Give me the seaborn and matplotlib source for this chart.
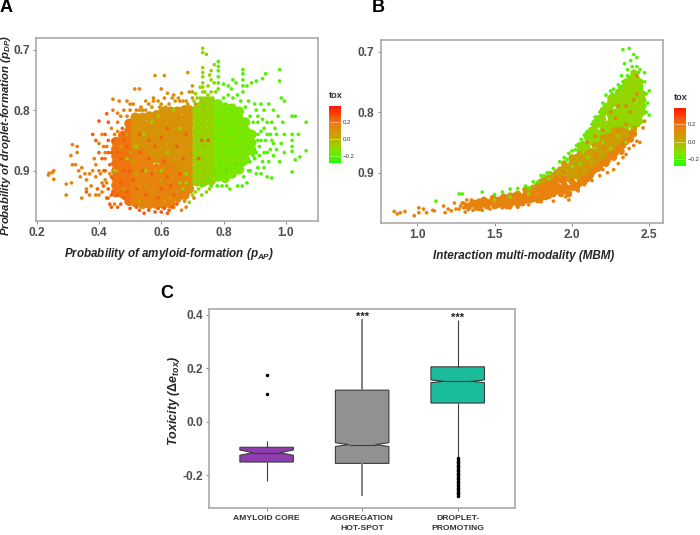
import numpy as np
import pandas as pd
import matplotlib
matplotlib.use("Agg")
import matplotlib.pyplot as plt
from matplotlib.colors import LinearSegmentedColormap, Normalize
from matplotlib.cm import ScalarMappable
import seaborn as sns

sns.set_theme(style="white")
plt.rcParams['font.family'] = ['Liberation Sans', 'DejaVu Sans']
plt.rcParams['mathtext.fontset'] = 'custom'
plt.rcParams['mathtext.it'] = 'Liberation Sans:italic:bold'
plt.rcParams['mathtext.rm'] = 'Liberation Sans:bold'
plt.rcParams['mathtext.bf'] = 'Liberation Sans:bold'

# ---------- Panel A, dense cloud ----------
a_core_red = [(.455,.852),(.455,.864),(.455,.876),(.455,.888),(.455,.90),(.455,.912),(.455,.924),(.455,.936),
 (.477,.842),(.477,.854),(.477,.866),(.477,.878),(.477,.89),(.477,.902),(.477,.914),(.477,.926),(.477,.938),
 (.497,.822),(.497,.834),(.497,.846),(.497,.858),(.497,.87),(.497,.882),(.497,.894),(.497,.906),(.497,.918),(.497,.93),(.497,.942),(.497,.95)]
a_core_orange = [(.517,.872),(.517,.884),(.517,.896),(.517,.908),(.517,.92),(.517,.932),(.517,.944),(.517,.952),
 (.54,.872),(.54,.884),(.54,.896),(.54,.908),(.54,.92),(.54,.932),(.54,.944),(.54,.955),
 (.562,.884),(.562,.896),(.562,.908),(.562,.92),(.562,.932),(.562,.944),(.562,.955),
 (.585,.896),(.585,.908),(.585,.92),(.585,.932),(.585,.944),(.585,.955),
 (.607,.884),(.607,.908),(.607,.92),(.607,.932),(.607,.944),(.607,.955),
 (.63,.896),(.63,.92),(.63,.932),(.63,.944),(.63,.954),
 (.652,.908),(.652,.92),(.652,.932),(.652,.944),(.675,.92),(.675,.932),(.675,.94)]
a_core_amber = [(.517,.812),(.517,.824),(.517,.836),(.517,.848),(.517,.86),
 (.54,.812),(.54,.824),(.54,.836),(.54,.848),(.54,.86),
 (.562,.81),(.562,.824),(.562,.836),(.562,.848),(.562,.86),(.562,.872),
 (.585,.808),(.585,.82),(.585,.832),(.585,.844),(.585,.856),(.585,.868),(.585,.88),
 (.607,.802),(.607,.814),(.607,.826),(.607,.838),(.607,.85),(.607,.862),(.607,.874),(.607,.896),
 (.63,.802),(.63,.814),(.63,.826),(.63,.838),(.63,.85),(.63,.862),(.63,.874),(.63,.886),(.63,.908),
 (.652,.802),(.652,.814),(.652,.826),(.652,.838),(.652,.85),(.652,.862),(.652,.874),(.652,.886),(.652,.897),
 (.675,.80),(.675,.814),(.675,.826),(.675,.838),(.675,.85),(.675,.862),(.675,.874),(.675,.886),(.675,.898),(.675,.91),
 (.69,.80),(.69,.812),(.69,.824),(.69,.836),(.69,.848),(.69,.86),(.69,.872),(.69,.884),(.69,.896),(.69,.908),(.69,.92),(.69,.93)]
a_core_lime = [(.715,.799),(.715,.811),(.715,.823),(.715,.835),(.715,.847),(.715,.859),(.715,.871),(.715,.883),(.715,.895),(.715,.907),(.715,.918),
 (.737,.787),(.737,.799),(.737,.811),(.737,.823),(.737,.835),(.737,.847),(.737,.859),(.737,.871),(.737,.883),(.737,.895),(.737,.907),(.737,.918),
 (.76,.787),(.76,.799),(.76,.811),(.76,.823),(.76,.835),(.76,.847),(.76,.859),(.76,.871),(.76,.883),(.76,.895),(.76,.907),(.76,.916)]
a_core_green = [(.782,.79),(.782,.804),(.782,.816),(.782,.828),(.782,.84),(.782,.852),(.782,.864),(.782,.876),(.782,.888),(.782,.90),(.782,.91),
 (.805,.795),(.805,.809),(.805,.821),(.805,.833),(.805,.845),(.805,.857),(.805,.869),(.805,.881),(.805,.893),(.805,.905),(.805,.912),
 (.827,.797),(.827,.809),(.827,.821),(.827,.833),(.827,.845),(.827,.857),(.827,.869),(.827,.881),(.827,.893),(.827,.905),
 (.85,.802),(.85,.814),(.85,.826),(.85,.838),(.85,.85),(.85,.862),(.85,.874),(.85,.886),(.85,.898),
 (.87,.82),(.87,.834),(.87,.846),(.87,.858),(.87,.87),(.87,.882),(.89,.84),(.89,.854),(.89,.866)]

# ---------- Panel A, sparse edge points and speckle ----------
a_edge_red = [(.40,.818),(.425,.806),(.43,.82),(.36,.935),(.395,.93),(.42,.84),(.38,.84),(.39,.85),(.40,.87),(.41,.88),(.42,.90),(.415,.925),(.435,.955),(.44,.96),(.46,.96),(.48,.945),(.47,.955),(.50,.962),(.53,.965),(.545,.97),(.56,.965),(.59,.962),(.62,.97),(.625,.965),(.60,.968),(.475,.83),(.48,.85),(.49,.86),(.43,.87),(.435,.89),(.44,.91),(.43,.93),(.44,.94),(.425,.945),(.445,.85),(.43,.85),(.44,.87),(.445,.935),(.52,.96),(.58,.968),(.61,.962),(.635,.96),(.65,.955)]
a_edge_orange = [(.238,.907),(.24,.904),(.25,.903),(.255,.90),(.255,.914),(.295,.922),(.295,.94),(.312,.92),(.31,.875),(.315,.89),(.325,.89),(.33,.87),(.335,.90),(.34,.91),(.345,.945),(.355,.905),(.36,.915),(.37,.905),(.375,.925),(.38,.90),(.385,.88),(.39,.94),(.40,.94),(.405,.905),(.41,.92),(.415,.90),(.40,.855),(.41,.84),(.42,.87),(.44,.83),(.445,.80),(.46,.805),(.445,.782),(.465,.785),(.49,.785),(.50,.79),(.515,.765),(.53,.765),(.535,.795),(.56,.79),(.575,.78),(.60,.765),(.61,.78),(.64,.775),(.66,.785),(.58,.955),(.64,.96),(.665,.965),(.68,.96),(.655,.95),(.705,.945),(.315,.857),(.33,.86),(.345,.895),(.36,.93),(.37,.94),(.39,.91),(.43,.945),(.45,.955),(.39,.89),(.40,.90),(.42,.88),(.425,.86),(.415,.86),(.41,.935),(.42,.915),(.46,.82),(.47,.81),(.48,.80),(.49,.81),(.50,.80),(.51,.79),(.52,.80),(.46,.835),(.45,.84),(.435,.905),(.425,.92)]
a_edge_amber = [(.58,.743),(.61,.743),(.685,.738),(.62,.772),(.635,.78),(.665,.772),(.69,.77),(.70,.76),(.70,.78),(.71,.79),(.68,.785),(.55,.785),(.57,.795),(.59,.785),(.625,.79),(.655,.80),(.675,.795),(.675,.95),(.54,.80),(.55,.80),(.575,.785),(.60,.79),(.615,.795),(.645,.785),(.655,.78),(.67,.785),(.685,.79),(.70,.77),(.595,.795),(.53,.80)]
a_edge_lime = [(.733,.698),(.733,.705),(.733,.73),(.733,.738),(.733,.745),(.733,.755),(.733,.762),(.733,.77),(.745,.708),(.725,.762),(.71,.773),(.715,.78),(.74,.77),(.755,.742),(.76,.735),(.75,.76),(.76,.77),(.77,.725),(.77,.755),(.72,.93),(.73,.94),(.745,.935),(.755,.93),(.70,.94),(.71,.935),(.69,.952),(.725,.78),(.735,.78),(.745,.78),(.755,.78),(.765,.78),(.705,.785),(.72,.79),(.75,.775),(.76,.75),(.775,.77)]
a_edge_green = [(.783,.72),(.783,.728),(.783,.735),(.783,.745),(.783,.755),(.783,.765),(.80,.757),(.815,.76),(.825,.765),(.83,.75),(.84,.755),(.862,.733),(.862,.74),(.862,.75),(.862,.76),(.862,.77),(.875,.76),(.89,.755),(.905,.752),(.925,.748),(.935,.74),(.98,.733),(.98,.752),(.985,.78),(.995,.785),(.88,.785),(.90,.79),(.92,.79),(.945,.79),(.96,.80),(.93,.80),(.905,.80),(.94,.82),(.955,.82),(.975,.81),(1.02,.81),(1.03,.81),(1.065,.82),(.99,.82),(1.02,.84),(1.02,.85),(1.04,.84),(1.02,.86),(1.02,.868),(.995,.84),(.985,.855),(.97,.84),(.95,.84),(.935,.85),(.92,.835),(.915,.86),(.93,.87),(.95,.865),(.97,.865),(.995,.87),(1.065,.867),(1.045,.877),(1.03,.882),(1.02,.902),(.98,.885),(.96,.875),(.945,.885),(.93,.895),(.91,.895),(.92,.905),(.94,.91),(.955,.912),(.90,.88),(.88,.90),(.865,.91),(.875,.92),(.86,.925),(.845,.925),(.82,.93),(.81,.925),(.795,.925),(.78,.925),(.865,.89),(.885,.90),(.905,.905),(.80,.78),(.815,.775),(.83,.78),(.845,.775),(.855,.785),(.87,.795),(.885,.81),(.895,.82),(.91,.82),(.91,.84),(.91,.85),(.905,.87),(.92,.85),(.93,.83),(.94,.84),(.955,.85),(.965,.83),(.96,.855),(.925,.815),(.91,.81),(.895,.875),(.885,.885),(.915,.875),(.925,.885),(.94,.87)]
a_speckle_lime = [(.66,.83),(.62,.87),(.57,.82),(.52,.86),(.60,.90),(.49,.88),(.64,.80),(.68,.92),(.66,.92),(.545,.84),(.59,.81),(.45,.90),(.55,.90),(.67,.93),(.68,.905)]
a_speckle_red = [(.56,.88),(.60,.93),(.52,.93),(.48,.84),(.47,.88),(.62,.91),(.58,.86),(.64,.94),(.67,.88),(.75,.85),(.72,.88),(.73,.85),(.54,.90),(.50,.90),(.46,.87),(.53,.87),(.57,.905),(.61,.885),(.66,.905),(.55,.94),(.59,.945),(.63,.925),(.51,.915),(.49,.935),(.53,.84),(.60,.845),(.65,.86),(.56,.85),(.68,.84),(.62,.83),(.47,.92),(.46,.94),(.48,.90)]
a_speckle_amber = [(.50,.87),(.52,.905),(.55,.925),(.58,.90),(.60,.915),(.63,.945),(.47,.86),(.49,.84),(.46,.90),(.65,.935),(.57,.935),(.53,.95),(.61,.95),(.48,.93),(.51,.885)]
a_speckle_bright = [(.80,.85),(.83,.87),(.78,.82),(.82,.83),(.85,.85),(.79,.89),(.84,.89),(.86,.84),(.81,.90),(.88,.86),(.77,.90),(.75,.915),(.73,.925),(.76,.925)]

# ---------- Panel B, dense band ----------
b_core_lime = [(2.05,.855),(2.05,.863),(2.1,.837),(2.1,.843),(2.1,.851),(2.1,.86),(2.15,.817),(2.15,.823),(2.15,.831),(2.15,.839),(2.15,.847),
 (2.2,.797),(2.2,.803),(2.2,.811),(2.2,.819),(2.2,.827),(2.2,.835),(2.25,.777),(2.25,.783),(2.25,.791),(2.25,.799),(2.25,.807),(2.25,.815),(2.25,.823),(2.25,.831),
 (2.3,.767),(2.3,.773),(2.3,.781),(2.3,.789),(2.3,.797),(2.3,.805),(2.3,.813),(2.3,.821),(2.35,.75),(2.35,.755),(2.35,.765),(2.35,.775),(2.35,.785),(2.35,.795),(2.35,.805),(2.35,.815),(2.35,.825),
 (2.4,.735),(2.4,.74),(2.4,.75),(2.4,.76),(2.4,.77),(2.4,.78),(2.4,.79),(2.4,.80),(2.4,.81),(2.4,.82),(2.44,.75),(2.44,.757),(2.44,.765),(2.44,.775),(2.44,.785),(2.44,.795),(2.44,.805),(2.44,.815),
 (2.125,.83),(2.175,.81),(2.225,.79),(2.275,.775),(2.325,.76),(2.375,.745),(2.42,.745),(2.275,.80),(2.325,.80),(2.375,.79),(2.42,.79),(2.225,.82),(2.175,.835),(2.125,.85),(2.075,.865),(2.42,.82),
 (2.075,.855),(2.125,.84),(2.175,.82),(2.225,.80),(2.275,.785),(2.325,.77),(2.375,.755),(2.42,.755),(2.175,.845),(2.225,.83),(2.275,.81),(2.275,.82),(2.325,.78),(2.325,.79),(2.325,.81),(2.325,.82),(2.375,.765),(2.375,.775),(2.375,.785),(2.375,.80),(2.375,.81),(2.375,.82),(2.42,.765),(2.42,.775),(2.42,.80),(2.42,.81),(2.46,.77),(2.46,.78),(2.46,.79),(2.46,.80)]
b_core_amber = [(1.7,.928),(1.75,.925),(1.8,.915),(1.85,.908),(1.9,.90),(1.95,.885),(1.95,.893),(1.95,.90),(2.0,.875),(2.0,.883),(2.0,.891),(2.0,.899),(2.0,.907),
 (2.05,.87),(2.05,.878),(2.05,.886),(2.05,.894),(2.05,.902),(2.05,.91),(2.1,.868),(2.1,.876),(2.1,.884),(2.1,.892),(2.1,.90),(2.15,.855),(2.15,.863),(2.15,.871),(2.15,.879),(2.15,.887),
 (2.2,.843),(2.2,.851),(2.2,.859),(2.2,.867),(2.2,.875),(2.25,.839),(2.25,.847),(2.25,.855),(2.25,.863),(2.3,.829),(2.3,.837),(2.3,.845),(2.3,.853),(2.35,.833),(2.35,.841),(2.4,.828),
 (1.925,.895),(1.975,.89),(2.025,.885),(2.075,.885),(2.125,.875),(2.175,.865),(2.225,.85),(2.275,.84),(1.925,.905),(1.975,.90),(1.975,.91),(2.025,.875),(2.025,.895),(2.025,.905),(2.075,.875),(2.075,.895),(2.075,.905),(2.125,.865),(2.125,.885),(2.125,.895),(2.175,.855),(2.175,.875),(2.175,.885),(2.225,.84),(2.225,.86),(2.225,.87),(2.275,.83),(2.275,.85),(2.275,.86),(2.325,.83),(2.325,.84),(2.325,.85),(2.375,.835),
 (1.55,.942),(1.6,.938),(1.65,.935),(1.72,.93),(1.78,.92),(1.82,.912),(1.88,.905),(1.45,.948)]
b_core_orange = [(1.32,.955),(1.35,.952),(1.38,.955),(1.4,.958),(1.42,.952),(1.45,.955),(1.48,.948),(1.5,.955),(1.52,.945),(1.55,.952),(1.58,.948),(1.6,.945),(1.6,.953),(1.63,.938),(1.65,.945),(1.65,.952),
 (1.68,.94),(1.7,.936),(1.7,.946),(1.73,.945),(1.75,.935),(1.75,.943),(1.78,.928),(1.8,.925),(1.8,.935),(1.8,.942),(1.83,.92),(1.85,.918),(1.85,.928),(1.85,.938),(1.88,.915),(1.9,.91),(1.9,.92),(1.9,.93),(1.93,.912),
 (1.95,.91),(1.95,.92),(1.95,.93),(2.0,.915),(2.0,.925),(2.05,.918),(2.1,.91),(2.13,.90),(2.15,.895),(2.2,.883),(2.25,.871),(2.3,.861),(2.35,.849),(2.4,.836),(2.18,.89),(2.23,.88),(2.28,.868),(2.33,.855),(2.38,.845),
 (1.98,.935),(1.93,.935),(2.03,.925),(2.08,.915),(1.37,.95),(1.4,.948),(1.43,.945),(1.46,.951),(1.49,.942),(1.52,.953),(1.56,.94),(1.58,.955),(1.62,.948),(1.66,.94),(1.68,.95),(1.72,.94),(1.76,.938),(1.78,.945),(1.82,.93),(1.83,.94),(1.87,.925),(1.88,.935),(1.92,.925),(1.97,.925),(2.02,.92),(2.07,.91),(2.12,.905),(2.17,.893),(2.22,.885),(2.27,.875),(2.32,.865)]
b_edge_orange = [(.85,.964),(.87,.968),(.89,.966),(.92,.964),(.98,.971),(1.01,.958),(1.01,.966),(1.04,.96),(1.06,.966),(1.1,.962),(1.11,.963),(1.17,.955),(1.18,.966),(1.2,.96),(1.22,.963),(1.24,.95),(1.25,.96),(1.27,.96),(1.29,.95),(1.31,.965),(1.33,.961),(1.35,.945),(1.38,.96),(1.42,.962),(1.47,.96),(1.55,.958),(1.6,.958),(1.65,.957),(1.72,.953),(1.8,.948),(1.88,.947),(1.96,.94),(1.98,.945),(2.04,.93),(2.08,.92),(2.13,.913),(2.18,.905),(2.23,.9),(2.27,.895),(2.3,.885),(2.33,.875),(2.37,.86),(2.4,.855),(2.42,.848),(2.46,.826),(2.47,.815),(2.44,.85),(2.35,.87),(2.2,.895),(1.3,.95),(1.32,.945),(1.34,.958),(1.36,.962),(1.3,.958),(1.28,.955)]
b_edge_green = [(1.12,.947),(1.27,.935),(1.29,.935),(1.42,.932),(1.5,.936),(1.55,.932),(1.6,.927),(1.65,.926),(1.7,.922),(1.75,.915),(1.8,.905),(1.84,.9),(1.88,.893),(1.92,.882),(1.95,.875),(1.98,.868),(2.0,.864),(2.03,.855),(2.06,.845),(2.08,.838),(2.1,.832),(2.13,.82),(2.15,.808),(2.18,.8),(2.2,.785),(2.22,.772),(2.25,.765),(2.27,.762),(2.3,.755),(2.32,.74),(2.34,.72),(2.36,.73),(2.38,.715),(2.4,.705),(2.42,.725),(2.44,.73),(2.47,.735),(2.5,.765),(2.5,.805),(2.49,.785),(2.33,.697),(2.37,.695),(2.42,.71),(2.45,.76),(2.48,.77),(2.47,.79),(2.48,.8),(2.47,.75),(2.43,.735),(2.39,.725),(2.36,.74),(2.33,.75),(1.97,.878),(2.02,.862),(2.07,.85),(2.11,.84),(2.16,.815),(2.21,.79),(2.26,.77),(2.31,.76),(1.72,.925),(1.78,.915),(1.82,.905),(1.86,.9)]
b_speckle_lime = [(1.72,.935),(1.85,.91),(2.0,.89),(2.15,.86),(2.25,.86),(2.35,.85),(1.6,.94),(1.5,.945),(2.1,.875),(2.05,.885),(2.2,.85),(2.3,.84),(1.95,.90)]
b_speckle_red = [(2.25,.80),(2.3,.79),(2.2,.83),(2.35,.82),(2.4,.78),(2.28,.81),(2.15,.84),(2.42,.77),(2.1,.85),(1.95,.90),(2.05,.90),(2.42,.74),(2.2,.86),(2.3,.83),(2.15,.87),(2.1,.89),(2.38,.8),(2.35,.79),(2.25,.84),(2.05,.915)]

# ---------- tox level of each group ----------
tox_red, tox_orange, tox_amber, tox_lime, tox_green = 0.24, 0.16, 0.10, -0.09, -0.2
tox_ticks = [-0.2, 0.0, 0.2]
tox_limits = (-0.28, 0.39)

# ---------- Panel C ----------
box_groups = ["AMYLOID CORE", "AGGREGATION\nHOT-SPOT", "DROPLET-\nPROMOTING"]
amyloid_values = [-0.22, -0.15, -0.115, -0.095, -0.07, 0.102, 0.174]
amyloid_counts = [1, 25, 25, 25, 1, 1, 1]
hotspot_values = [-0.275, -0.155, -0.085, 0.118, 0.385]
hotspot_counts = [1, 1200, 1200, 1200, 1]
droplet_values = [-0.275, -0.27, -0.265, -0.26, -0.255, -0.25, -0.245, -0.24, -0.235, -0.23, -0.225, -0.22, -0.215, -0.21, -0.205, -0.2, -0.195, -0.19, -0.185, -0.18, -0.175, -0.17, -0.165, -0.16, -0.155, -0.15, -0.145, -0.14, -0.135, -0.13, 0.07, 0.151, 0.205, 0.378]
droplet_counts = [1] * 30 + [600, 600, 600, 1]
box_colors = ["#8e3fae", "#8f9192", "#1abc9c"]
star_positions = [1, 2]
star_values = [0.392, 0.388]

W, H = 700, 535
GREY = "#4d4d4d"
cmap = LinearSegmentedColormap.from_list("tox", [(0, "#22ff00"), (.22, "#7fe600"), (.45, "#c4a800"), (.7, "#ee7a10"), (1, "#ff1500")])
norm = Normalize(*tox_limits)
fig = plt.figure(figsize=(W / 100, H / 100), dpi=100, facecolor="white")


def make_ax(x0, y0, x1, y1):
    ax = fig.add_axes([x0 / W, 1 - y1 / H, (x1 - x0) / W, (y1 - y0) / H])
    for side in ["left", "right", "top", "bottom"]:
        ax.spines[side].set_color("#a3a3a3")
        ax.spines[side].set_linewidth(1.1)
    ax.tick_params(left=True, bottom=True, length=2.5, width=.7, color="#8a8a8a", pad=2)
    return ax


def draw(ax, groups, size):
    frames = [pd.DataFrame(pts, columns=["x", "y"]).assign(tox=t) for pts, t in groups]
    sns.scatterplot(data=pd.concat(frames), x="x", y="y", hue="tox", hue_norm=norm, palette=cmap,
                    s=size, linewidth=0, alpha=1, legend=False, ax=ax)


def style_scatter(ax, xt):
    ax.set_xticks(xt)
    ax.set_xticklabels([f"{v:.1f}" for v in xt], fontsize=8.6, fontweight="bold", color=GREY)
    ax.set_yticks([.7, .8, .9])
    ax.set_yticklabels(["0.7", "0.8", "0.9"], fontsize=8.6, fontweight="bold", color=GREY)
    ax.set_xlabel("")
    ax.set_ylabel("")


def colorbar(x0, y0, x1, y1):
    cax = fig.add_axes([x0 / W, 1 - y1 / H, (x1 - x0) / W, (y1 - y0) / H])
    cb = fig.colorbar(ScalarMappable(norm=norm, cmap=cmap), cax=cax)
    cb.outline.set_visible(False)
    cb.set_ticks(tox_ticks)
    cb.ax.set_yticklabels(["\u22120.2", "0.0", "0.2"], fontsize=4.3, color="#333333")
    cb.ax.tick_params(length=0, pad=1.2)
    for t in tox_ticks:
        cb.ax.axhline(t, color="white", lw=.4, alpha=.7)
    fig.text(x0 / W, 1 - (y0 - 10) / H, "tox", fontsize=6.6, fontweight="bold", color="#333333", va="center")


# Panel A
ax_a = make_ax(36, 38, 318, 220.5)
draw(ax_a, [(a_core_red, 0.2), (a_core_amber, tox_amber), (a_core_orange, tox_orange), (a_core_lime, -0.08), (a_core_green, -0.14)], 50)
draw(ax_a, [(a_edge_orange, tox_orange), (a_edge_amber, tox_amber), (a_edge_red, tox_red), (a_edge_lime, tox_lime), (a_edge_green, tox_green),
            (a_speckle_lime, tox_lime), (a_speckle_red, tox_red), (a_speckle_amber, 0.06), (a_speckle_bright, tox_green)], 7)
ax_a.set_xlim(0.198, 1.103)
ax_a.set_ylim(0.982, 0.681)
style_scatter(ax_a, [.2, .4, .6, .8, 1.0])
colorbar(329, 106, 341, 163)
fig.text(169 / W, 1 - 254 / H, r"Probability of amyloid-formation ($\mathit{p}_{\mathit{AP}}$)", fontsize=8.4,
         fontweight="bold", style="italic", color="#262626", ha="center", va="center")
fig.text(6 / W, 1 - 135 / H, r"Probability of droplet-formation ($\mathit{p}_{\mathit{DP}}$)", fontsize=8.2,
         fontweight="bold", style="italic", color="#262626", rotation=90, ha="center", va="center")

# Panel B
ax_b = make_ax(380.7, 40, 663, 223)
draw(ax_b, [(b_core_lime, tox_lime), (b_core_amber, 0.06), (b_core_orange, tox_orange)], 24)
draw(ax_b, [(b_edge_orange, tox_orange), (b_edge_green, tox_green), (b_speckle_lime, tox_lime), (b_speckle_red, tox_orange)], 7)
ax_b.set_xlim(0.763, 2.589)
ax_b.set_ylim(0.983, 0.681)
style_scatter(ax_b, [1.0, 1.5, 2.0, 2.5])
colorbar(674, 108, 686, 166)
fig.text(524 / W, 1 - 256 / H, "Interaction multi-modality (MBM)", fontsize=8.4, fontweight="bold", style="italic",
         color="#262626", ha="center", va="center")

# Panel C
ax_c = make_ax(209.3, 309.3, 515, 508.3)
box_df = pd.DataFrame({
    "group": np.repeat(box_groups, [sum(amyloid_counts), sum(hotspot_counts), sum(droplet_counts)]),
    "tox": np.concatenate([np.repeat(amyloid_values, amyloid_counts), np.repeat(hotspot_values, hotspot_counts),
                           np.repeat(droplet_values, droplet_counts)]),
})
sns.boxplot(data=box_df, x="group", y="tox", hue="group", order=box_groups, hue_order=box_groups, palette=box_colors,
            saturation=1, width=.56, notch=True, showcaps=False, linecolor="#3c3c3c", linewidth=.8,
            fliersize=1.5, flierprops={"marker": "o", "markerfacecolor": "black", "markeredgecolor": "black"},
            legend=False, ax=ax_c)
hot = ax_c.containers[1]
for w in hot.whiskers:
    w.set_color("#808080")
    w.set_linewidth(1.4)
for s, v in zip(star_positions, star_values):
    ax_c.text(s, v, "***", fontsize=8, ha="center", va="center", color="#222222", fontweight="bold")
ax_c.set_xlim(-0.6, 2.6)
ax_c.set_ylim(-0.3225, 0.4195)
ax_c.set_yticks([-0.2, 0.0, 0.2, 0.4])
ax_c.set_yticklabels(["-0.2", "0.0", "0.2", "0.4"], fontsize=8.6, fontweight="bold", color=GREY)
ax_c.set_xticks([0, 1, 2])
ax_c.set_xticklabels(box_groups, fontsize=6.1, fontweight="bold", color="#333333", linespacing=1.6)
ax_c.set_xlabel("")
ax_c.set_ylabel("")
fig.text(174 / W, 1 - 401 / H, r"Toxicity ($\Delta e_{tox}$)", fontsize=9, fontweight="bold", style="italic",
         color="#262626", rotation=90, ha="center", va="center")

# Panel letters
for letter, x, y in [("A", 6, 8), ("B", 378, 7), ("C", 167, 293)]:
    fig.text(x / W, 1 - y / H, letter, fontsize=13, fontweight="bold", color="black", ha="center", va="center")

fig.savefig("out.png", dpi=100, facecolor="white")
